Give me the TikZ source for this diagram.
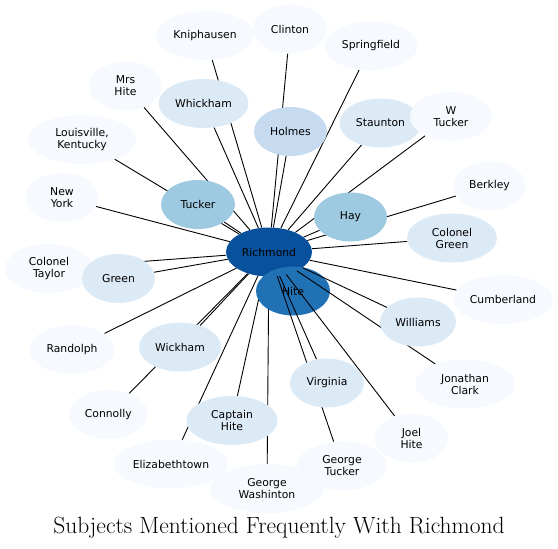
\documentclass[tikz,border=0pt]{standalone}
\usepackage{fontspec}
\usepackage{xcolor}
\usepackage{tikz}
\usetikzlibrary{shapes.geometric}
\newfontfamily\labelfont{DejaVu Sans}
\definecolor{hubblue}{RGB}{8,81,156}
\definecolor{hiteblue}{RGB}{33,113,181}
\definecolor{midblue}{RGB}{158,202,225}
\definecolor{paleblue}{RGB}{198,219,239}
\definecolor{lightblue}{RGB}{220,234,246}
\definecolor{faintblue}{RGB}{246,250,255}
\pgfdeclarelayer{edges}
\pgfdeclarelayer{hub}
\pgfsetlayers{edges,hub,main}

\begin{document}
\begin{tikzpicture}[
      x=1pt, y=-1pt,
      subj/.style={ellipse, fill=faintblue, minimum width=73pt, minimum height=49pt, inner sep=1pt, align=center, font=\labelfont\fontsize{10.8}{12}\selectfont},
      link/.style={draw=black, line width=0.9pt}
    ]
      \useasboundingbox (0,0) rectangle (558,549);
      % inner ring
      \node[subj, fill=lightblue, minimum width=90pt] (whickham) at (203.5,103.5) {Whickham};
      \node[subj, fill=paleblue] (holmes) at (290.5,131.5) {Holmes};
      \node[subj, fill=lightblue, minimum width=82pt] (staunton) at (380.5,123) {Staunton};
      \node[subj, fill=midblue, minimum width=74pt] (tucker) at (198,204.5) {Tucker};
      \node[subj, fill=midblue] (hay) at (350.5,217) {Hay};
      \node[subj, fill=lightblue, minimum width=90pt] (colgreen) at (452,238) {Colonel\\Green};
      \node[subj, fill=lightblue, minimum width=76pt] (williams) at (418,322) {Williams};
      \node[subj, fill=lightblue, minimum width=82pt] (wickham) at (180,347) {Wickham};
      \node[subj, fill=lightblue, minimum width=74pt] (virginia) at (327,383) {Virginia};
      \node[subj, fill=lightblue, minimum width=91pt] (capthite) at (232,420.5) {Captain\\Hite};
      % outer ring of subjects
      \node[subj, minimum width=98pt] (kniph) at (205,35.5) {Kniphausen};
      \node[subj, minimum width=74pt] (clinton) at (290,29) {Clinton};
      \node[subj, minimum width=93pt] (springf) at (371,46) {Springfield};
      \node[subj, minimum width=82pt] (wtucker) at (451,116.5) {W\\Tucker};
      \node[subj] (berkley) at (489.5,186) {Berkley};
      \node[subj, minimum width=100pt] (cumberl) at (503,299.5) {Cumberland};
      \node[subj, minimum width=100pt] (jclark) at (465,384) {Jonathan\\Clark};
      \node[subj] (joelhite) at (411.5,438) {Joel\\Hite};
      \node[subj, minimum width=90pt] (gtucker) at (342,466) {George\\Tucker};
      \node[subj, minimum width=114pt] (gwash) at (267,488.7) {George\\Washinton};
      \node[subj, minimum width=114pt] (elizab) at (171,464) {Elizabethtown};
      \node[subj, minimum width=79pt] (connolly) at (108.3,414.5) {Connolly};
      \node[subj, minimum width=85pt] (randolph) at (72,349.5) {Randolph};
      \node[subj, minimum width=88pt] (coltaylor) at (49,268.5) {Colonel\\Taylor};
      \node[subj] (newyork) at (62,197.5) {New\\York};
      \node[subj, minimum width=108pt] (louisv) at (82,139.5) {Louisville,\\Kentucky};
      \node[subj] (mrshite) at (125.5,86) {Mrs\\Hite};
      \node[subj, fill=lightblue] (green) at (118.5,278.5) {Green};
      % hub
      \begin{pgfonlayer}{hub}
        \node[subj, fill=hubblue, minimum width=86pt] (rich) at (269,252) {Richmond};
        \node[subj, fill=hiteblue, minimum width=74pt] (hite) at (293,291) {Hite};
        \draw[link] (rich) -- (gtucker);
        \draw[link] (rich) -- (virginia);
        \draw[link] (rich) -- (joelhite);
        \draw[link] (rich) -- (jclark);
        \draw[link] (rich) -- (williams);
      \end{pgfonlayer}
      \begin{pgfonlayer}{edges}
        \draw[link] (rich) -- (kniph);
        \draw[link] (rich) -- (clinton);
        \draw[link] (rich) -- (springf);
        \draw[link] (rich) -- (wtucker);
        \draw[link] (rich) -- (berkley);
        \draw[link] (rich) -- (cumberl);
        \draw[link] (rich) -- (gwash);
        \draw[link] (rich) -- (elizab);
        \draw[link] (rich) -- (connolly);
        \draw[link] (rich) -- (randolph);
        \draw[link] (rich) -- (coltaylor);
        \draw[link] (rich) -- (newyork);
        \draw[link] (rich) -- (louisv);
        \draw[link] (rich) -- (mrshite);
        \draw[link] (rich) -- (whickham);
        \draw[link] (rich) -- (holmes);
        \draw[link] (rich) -- (staunton);
        \draw[link] (rich) -- (tucker);
        \draw[link] (rich) -- (hay);
        \draw[link] (rich) -- (colgreen);
        \draw[link] (rich) -- (green);
        \draw[link] (rich) -- (wickham);
        \draw[link] (rich) -- (capthite);
      \end{pgfonlayer}
      \node[anchor=base, font=\fontsize{23.5}{28}\selectfont] (title) at (279,533) {Subjects Mentioned Frequently With Richmond};
    \end{tikzpicture}
\end{document}
